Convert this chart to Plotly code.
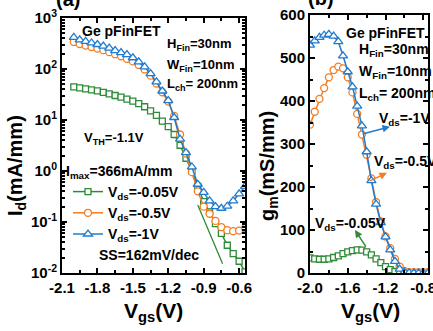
import plotly.graph_objects as go

W, H = 433, 331

# ---------------- data: panel (a) Id-Vgs (mA/mm) ----------------
vgs_a = [-2.0, -1.95, -1.9, -1.85, -1.8, -1.75, -1.7, -1.65, -1.6, -1.55,
         -1.5, -1.45, -1.4, -1.35, -1.3, -1.25, -1.2, -1.15, -1.1, -1.05,
         -1.0, -0.95, -0.9, -0.85, -0.8, -0.75, -0.7, -0.65, -0.6, -0.55]
id_005 = [44.7, 42.7, 40.7, 38.9, 37.2, 34.7, 32.4, 30.2, 28.2, 25.7,
          23.4, 20.9, 18.2, 15.1, 12.3, 9.5, 7.4, 5.2, 3.2, 1.78,
          1.0, 0.50, 0.25, 0.158, 0.093, 0.060, 0.035, 0.024, 0.017, 0.0105]
id_05 = [339, 309, 288, 269, 251, 234, 214, 195, 178, 158,
         141, 120, 98, 74, 52, 35, 23, 12, 5.2, 2.2,
         0.95, 0.40, 0.20, 0.145, 0.105, 0.079, 0.069, 0.066, 0.068, 0.076]
id_1 = [417, 372, 347, 324, 302, 282, 257, 229, 209, 191,
        166, 138, 110, 81, 56, 37, 24, 11.2, 4.2, 2.3,
        1.2, 0.55, 0.38, 0.26, 0.20, 0.186, 0.204, 0.26, 0.355, 0.50]
ss_v = [-0.95, -0.74]
ss_i = [0.215, 0.0151]

# ---------------- data: panel (b) gm-Vgs (mS/mm) ----------------
vgs_b = [-2.0, -1.95, -1.9, -1.85, -1.8, -1.75, -1.7, -1.65, -1.6, -1.55,
         -1.5, -1.45, -1.4, -1.35, -1.3, -1.25, -1.2, -1.15, -1.1, -1.05,
         -1.0, -0.95, -0.9, -0.85, -0.8, -0.75]
gm_005 = [35, 33, 32, 32, 33, 36, 40, 45, 49, 52,
          54, 53, 49, 42, 33, 24, 15, 8, 3.5, 1.5,
          0.5, 0, 0, 0, 0, 0]
gm_05 = [345, 375, 405, 430, 455, 472, 480, 476, 455, 420,
         370, 322, 275, 220, 165, 120, 85, 58, 33, 15,
         5, 2, 2, 2, 2, 2]
gm_1 = [530, 540, 548, 553, 555, 551, 538, 505, 468, 433,
        388, 342, 282, 215, 160, 117, 84, 54, 27, 9,
        2, 0.5, 0, 0, 0, 0]

names = ["V<sub>ds</sub>=-0.05V", "V<sub>ds</sub>=-0.5V", "V<sub>ds</sub>=-1V"]
colors = ["#2e8b37", "#f47d20", "#1f7bcf"]
symbols = ["square", "circle", "triangle-up"]
sizes = [6, 7, 8]

a_ticks = [0.01, 0.1, 1, 10, 100, 1000]
a_ticktext = ["10<sup>-2</sup>", "10<sup>-1</sup>", "10<sup>0</sup>",
              "10<sup>1</sup>", "10<sup>2</sup>", "10<sup>3</sup>"]

fig = go.Figure()

for ys, n, c, s, sz in zip([id_005, id_05, id_1], names, colors, symbols, sizes):
    fig.add_trace(go.Scatter(
        x=vgs_a, y=ys, name=n, mode="lines+markers",
        line=dict(color=c, width=1.5),
        marker=dict(symbol=s, size=sz, color="white", line=dict(color=c, width=1.3)),
        xaxis="x", yaxis="y"))

fig.add_trace(go.Scatter(x=ss_v, y=ss_i, mode="lines", showlegend=False,
                         line=dict(color=colors[0], width=1.3), xaxis="x", yaxis="y"))

for ys, c, s, sz in zip([gm_005, gm_05, gm_1], colors, symbols, sizes):
    fig.add_trace(go.Scatter(
        x=vgs_b, y=ys, mode="lines+markers", showlegend=False,
        line=dict(color=c, width=1.5),
        marker=dict(symbol=s, size=sz, color="white", line=dict(color=c, width=1.3)),
        xaxis="x2", yaxis="y2"))

FONT = "Liberation Sans"
tickfont = dict(family=FONT, size=15, color="black", weight="bold")
axis_common = dict(showline=True, linewidth=2, linecolor="black", mirror="ticks",
                   ticks="inside", ticklen=5, tickwidth=2, tickcolor="black",
                   showgrid=False, zeroline=False, tickfont=tickfont, automargin=False,
                   ticklabeloverflow="allow")

minor_a_y = [m * 10 ** k for k in range(-2, 3) for m in range(2, 10)]

fig.update_layout(
    width=W, height=H, margin=dict(l=0, r=0, t=0, b=0, pad=0, autoexpand=False),
    paper_bgcolor="white", plot_bgcolor="white",
    font=dict(family=FONT, color="black"),
    xaxis=dict(domain=[62 / W, 245 / W], range=[-2.1, -0.55], anchor="y",
               tickvals=[-2.1, -1.8, -1.5, -1.2, -0.9, -0.6],
               ticktext=["-2.1", "-1.8", "-1.5", "-1.2", "-0.9", "-0.6"],
               minor=dict(tickmode="linear", tick0=-2.1, dtick=0.15, ticklen=3,
                          tickwidth=1.5, tickcolor="black", ticks="inside"),
               **axis_common),
    yaxis=dict(domain=[1 - 273 / H, 1 - 18 / H], type="log", range=[-2, 3], anchor="x",
               tickvals=a_ticks, ticktext=a_ticktext,
               minor=dict(tickmode="array", tickvals=minor_a_y, ticklen=3,
                          tickwidth=1.5, tickcolor="black", ticks="inside"),
               **axis_common),
    xaxis2=dict(domain=[310 / W, 428 / W], range=[-2.0, -0.75], anchor="y2",
                tickvals=[-2.0, -1.6, -1.2, -0.8],
                ticktext=["-2.0", "-1.6", "-1.2", "-0.8"],
                minor=dict(tickmode="linear", tick0=-2.0, dtick=0.2, ticklen=3,
                           tickwidth=1.5, tickcolor="black", ticks="inside"),
                **axis_common),
    yaxis2=dict(domain=[1 - 273 / H, 1 - 15 / H], range=[0, 600], anchor="x2",
                tickvals=[0, 100, 200, 300, 400, 500, 600],
                minor=dict(tickmode="linear", tick0=0, dtick=50, ticklen=3,
                           tickwidth=1.5, tickcolor="black", ticks="inside"),
                **axis_common),
    legend=dict(x=68 / W, y=1 - 176 / H, xanchor="left", yanchor="top",
                bgcolor="rgba(0,0,0,0)", borderwidth=0,
                font=dict(family=FONT, size=14, color="black", weight="bold"),
                itemwidth=30, tracegroupgap=0),
    showlegend=True,
)


def ann(text, x, y, size=14, xanchor="center", yanchor="middle", textangle=0):
    fig.add_annotation(text=text, x=x / W, y=1 - y / H, xref="paper", yref="paper",
                       showarrow=False, xanchor=xanchor, yanchor=yanchor,
                       textangle=textangle, align=xanchor if xanchor != "center" else "center",
                       font=dict(family=FONT, size=size, color="black", weight="bold"))


# panel labels
ann("(a)", 68, -1, size=20)
ann("(b)", 321, -2, size=20)
# axis titles
ann("I<sub>d</sub>(mA/mm)", 16, 166, size=20, textangle=-90)
ann("g<sub>m</sub>(mS/mm)", 268, 166, size=20, textangle=-90)
ann("V<sub>gs</sub>(V)", 153, 312, size=21)
ann("V<sub>gs</sub>(V)", 370, 312, size=21)
# panel (a) texts
ann("Ge pFinFET", 121, 31)
ann("H<sub>Fin</sub>=30nm", 165, 45, size=13, xanchor="left")
ann("W<sub>Fin</sub>=10nm", 165, 65, size=13, xanchor="left")
ann("L<sub>ch</sub>= 200nm", 165, 85, size=13, xanchor="left")
ann("V<sub>TH</sub>=-1.1V", 82, 138, size=13, xanchor="left")
ann("I<sub>max</sub>=366mA/mm", 64, 172, xanchor="left")
ann("SS=162mV/dec", 149, 255)
# panel (b) texts
ann("Ge pFinFET", 385, 33)
ann("H<sub>Fin</sub>=30nm", 357, 50, xanchor="left")
ann("W<sub>Fin</sub>=10nm", 357, 72, xanchor="left")
ann("L<sub>ch</sub>= 200nm", 357, 94, xanchor="left")
ann("V<sub>ds</sub>=-1V", 377, 119, xanchor="left")
ann("V<sub>ds</sub>=-0.5V", 372, 162, xanchor="left")
ann("V<sub>ds</sub>=-0.05V", 313, 224, xanchor="left")


def arrow(x0, y0, x1, y1, color):
    fig.add_annotation(x=x1, y=y1, ax=x0, ay=y0, xref="x2", yref="y2",
                       axref="x2", ayref="y2", text="", showarrow=True,
                       arrowhead=2, arrowsize=1, arrowwidth=1.5, arrowcolor=color)


arrow(-1.45, 323, -1.153, 340, colors[2])
arrow(-1.385, 212, -1.185, 233, colors[1])
arrow(-1.397, 58, -1.524, 100, colors[0])

fig.write_html("out.html", config={"displayModeBar": False},
               post_script="document.body.style.margin='0';document.body.style.overflow='hidden';")
